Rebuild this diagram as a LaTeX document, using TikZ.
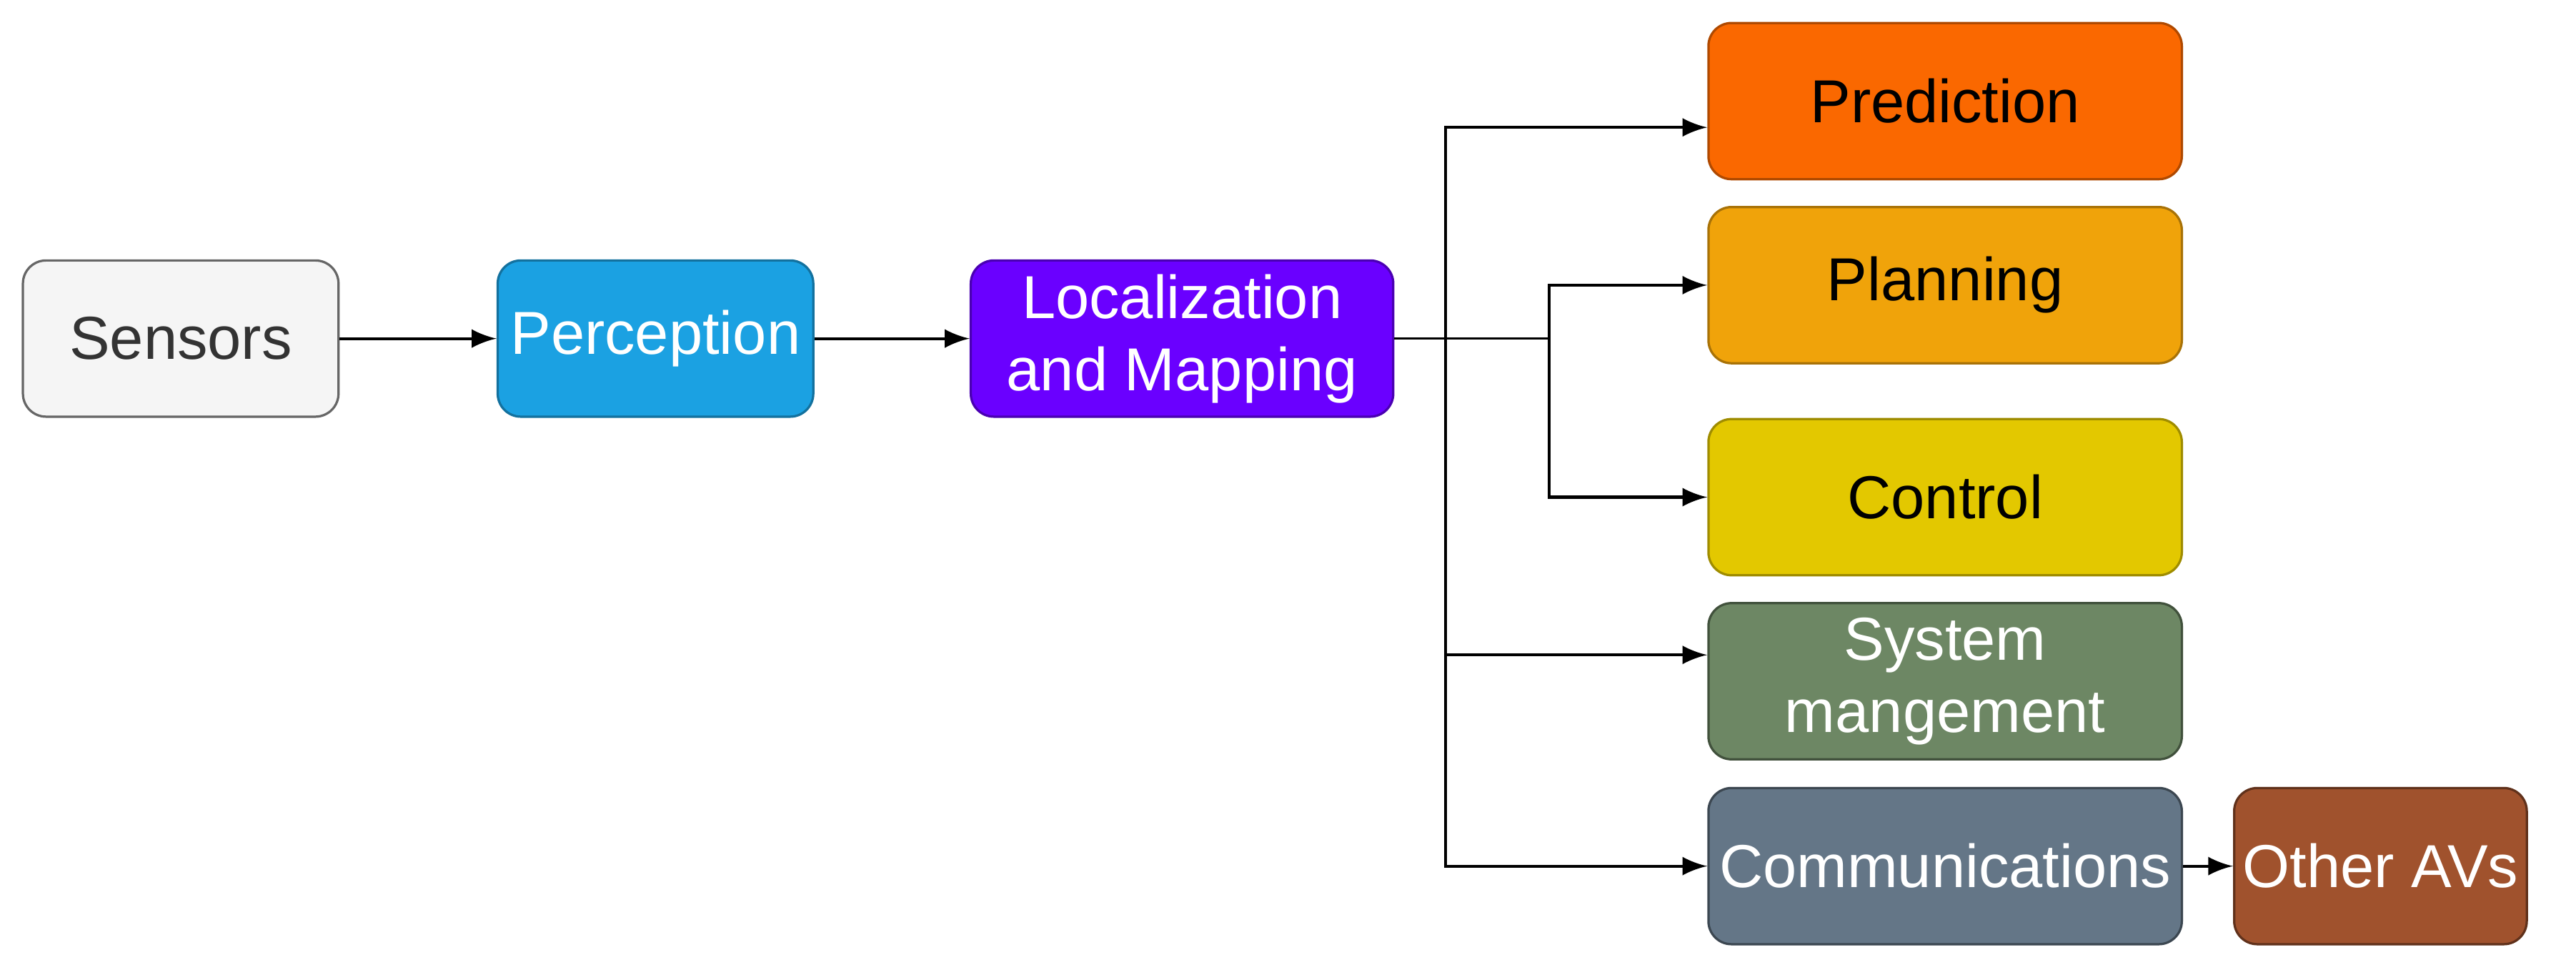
\documentclass[tikz,border=0pt]{standalone}
\usepackage{fontspec}
\setmainfont{Liberation Sans}
\usetikzlibrary{calc}
\definecolor{sensfill}{HTML}{F5F5F5}
\definecolor{percfill}{HTML}{1BA1E2}
\definecolor{locfill}{HTML}{6A00FF}
\definecolor{predfill}{HTML}{FA6800}
\definecolor{planfill}{HTML}{F0A30A}
\definecolor{ctrlfill}{HTML}{E3C800}
\definecolor{sysfill}{HTML}{6D8764}
\definecolor{commfill}{HTML}{647687}
\definecolor{avfill}{HTML}{A0522D}

\begin{document}
\begin{tikzpicture}[x=0.01cm,y=-0.01cm,
	box/.style={draw, rounded corners=4pt, align=center, inner sep=0pt,
		font=\fontsize{10.5}{12.5}\selectfont, minimum height=0.95cm},
	arr/.style={-latex, line width=0.5pt}]
	\useasboundingbox (0,0) rectangle (1568,587);
	\node[box, fill=sensfill, draw=black!60, text=black!80, minimum width=1.92cm] (sens) at (110,206) {Sensors};
	\node[box, fill=percfill, draw=percfill!70!black, text=white, minimum width=1.92cm] (perc) at (399,206) {Perception};
	\node[box, fill=locfill, draw=locfill!70!black, text=white, minimum width=2.57cm] (loc) at (719.5,206) {Localization\\and Mapping};
	\node[box, fill=predfill, draw=predfill!70!black, minimum width=2.88cm] (pred) at (1184,61.5) {Prediction};
	\node[box, fill=planfill, draw=planfill!70!black, minimum width=2.88cm] (plan) at (1184,173.5) {Planning};
	\node[box, fill=ctrlfill, draw=ctrlfill!70!black, minimum width=2.88cm] (ctrl) at (1184,302.5) {Control};
	\node[box, fill=sysfill, draw=sysfill!60!black, text=white, minimum width=2.88cm] (sys) at (1184,414.5) {System\\mangement};
	\node[box, fill=commfill, draw=commfill!60!black, text=white, minimum width=2.88cm] (comm) at (1184,527) {Communications};
	\node[box, fill=avfill, draw=avfill!60!black, text=white, minimum width=1.78cm] (av) at (1449,527) {Other AVs};

	\coordinate (fork) at (943,206);
	\coordinate (trunk) at (880,206);
	\draw[arr] (sens) -- (perc);
	\draw[arr] (perc) -- (loc);
	\draw (loc.east) -- (fork);
	\draw[arr] (fork) |- (plan.west);
	\draw[arr] (fork) |- (ctrl.west);
	\draw[arr] (trunk) |- ($(pred.west)+(0,16)$);
	\draw[arr] (trunk) |- ($(sys.west)+(0,-16)$);
	\draw[arr] (trunk) |- (comm.west);
	\draw[arr] (comm) -- (av);
\end{tikzpicture}
\end{document}
